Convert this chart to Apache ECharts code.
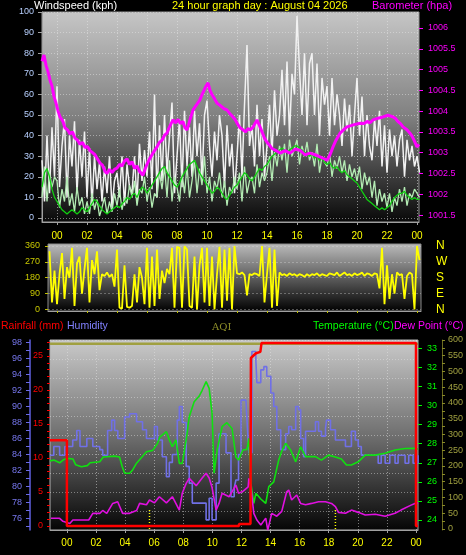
<!DOCTYPE html>
<html><head><meta charset="utf-8">
<script src="https://cdn.jsdelivr.net/npm/echarts@6/dist/echarts.min.js"></script>
<style>html,body{margin:0;padding:0;background:#000;}#c{width:466px;height:555px;}</style>
</head><body><div id="c"></div>
<script>
// ---------- tick labels ----------
const hourTicks = [0,2,4,6,8,10,12,14,16,18,20,22,24];
const hourLabels = ['00','02','04','06','08','10','12','14','16','18','20','22','00'];
const windTicks = [0,10,20,30,40,50,60,70,80,90,100];
const baroTicks = [1001.5,1002,1002.5,1003,1003.5,1004,1004.5,1005,1005.5,1006];
const dirTicks = [0,90,180,270,360];
const compassNames = ['N','E','S','W','N'];
const rainTicks = [0,5,10,15,20,25];
const rainMinorTicks = [0,1,2,3,4,5,6,7,8,9,10,11,12,13,14,15,16,17,18,19,20,21,22,23,24,25,26,27];
const humTicks = [76,78,80,82,84,86,88,90,92,94,96,98];
const humMinorTicks = [75,76,77,78,79,80,81,82,83,84,85,86,87,88,89,90,91,92,93,94,95,96,97,98];
const tempTicks = [24,25,26,27,28,29,30,31,32,33];
const aqiTicks = [0,50,100,150,200,250,300,350,400,450,500,550,600];
const aqiMinorTicks = [0,25,50,75,100,125,150,175,200,225,250,275,300,325,350,375,400,425,450,475,500,525,550,575,600];

// ---------- wind speed (kph), 10-minute samples from 23:00 of the previous day ----------
const windStart = -1;
const gust = [
 28,8,40,12,44,20, 64,15,35,48,10,40, 25,47,12,38,20,42, 10,34,6,30,14,27,
 8,25,12,30,5,18, 22,10,30,6,26,15, 12,30,8,36,18,33, 20,42,14,60,10,45,
 18,50,22,40,56,12, 30,48,15,52,25,44, 20,52,30,46,18,50, 57,35,20,42,28,50,
 40,15,45,25,36,12, 30,50,20,55,84,35, 45,25,55,30,48,20, 35,55,30,62,40,50,
 72,45,76,40,70,60, 98,72,50,80,45,75, 80,50,75,40,68,55, 64,40,68,45,60,50,
 35,58,42,55,30,50, 68,40,59,30,50,35, 28,48,35,52,25,45, 22,43,30,40,25,38,
 43,20,38,28,35,25, 30,22
];
const speed = [
 10,25,8,22,15,20, 18,5,14,8,20,6, 12,3,15,6,10,2, 8,2,12,4,9,1,
 5,10,2,8,3,12, 6,14,4,10,7,16, 10,18,6,14,12,20, 8,15,5,12,10,22,
 14,25,10,28,8,20, 15,8,22,12,25,10, 18,28,12,24,16,30, 12,20,8,18,14,22,
 10,18,6,15,12,20, 14,22,8,25,12,18, 20,12,26,15,22,18, 22,30,18,32,25,35,
 28,36,22,38,30,34, 38,26,35,30,37,28, 32,25,36,22,30,27, 25,32,20,28,24,30,
 22,28,18,26,20,24, 18,25,14,22,16,20, 10,18,6,14,8,12, 5,12,3,10,6,14,
 8,15,6,12,10,14, 12,10
];
const avgSpeed = [
 15,22,24,20,14,10, 8,6,4,3,2,3, 4,3,2,3,5,4, 3,5,7,9,8,6,
 4,3,2,3,4,5, 6,5,7,8,10,9, 11,12,10,13,15,14, 12,14,16,18,20,22,
 24,25,22,20,18,16, 15,17,20,22,24,26, 27,28,25,22,20,18, 16,14,12,13,15,14,
 12,10,9,11,13,15, 16,18,20,22,21,19, 18,20,22,24,23,25, 26,28,30,31,32,33,
 34,33,32,33,34,35, 35,34,33,32,31,30, 31,29,30,28,29,27, 26,27,25,24,25,23,
 22,23,21,20,19,18, 17,15,13,11,9,8, 7,6,5,4,5,4, 5,6,8,10,11,12,
 12,13,11,10,9,10, 9,9
];
// ---------- barometer (hPa): [hour, value] ----------
const baro = [
 [-1.0,1005.2],[-0.87,1005.35],[-0.73,1005.1],[-0.6,1004.95],[-0.47,1004.75],[-0.33,1004.6],[-0.2,1004.35],[-0.07,1004.2],
 [0.07,1004.0],[0.2,1003.86],[0.4,1003.75],[0.53,1003.6],[0.7,1003.55],[0.87,1003.45],[1.03,1003.5],[1.2,1003.35],
 [1.37,1003.3],[1.53,1003.2],[1.7,1003.25],[1.87,1003.12],[2.03,1003.15],[2.2,1003.05],[2.37,1003.0],[2.53,1002.95],
 [2.7,1002.85],[2.87,1002.75],[3.03,1002.7],[3.2,1002.55],[3.33,1002.5],[3.5,1002.6],[3.67,1002.52],[3.83,1002.6],
 [4.0,1002.63],[4.17,1002.72],[4.33,1002.68],[4.5,1002.8],[4.67,1002.85],[4.83,1002.72],[5.0,1002.78],[5.17,1002.62],
 [5.33,1002.68],[5.5,1002.55],[5.73,1002.46],[5.87,1002.6],[6.0,1002.72],[6.17,1002.85],[6.33,1002.95],[6.5,1003.05],
 [6.67,1003.14],[6.83,1003.25],[7.0,1003.3],[7.17,1003.42],[7.33,1003.47],[7.5,1003.62],[7.73,1003.79],[7.9,1003.72],
 [8.07,1003.8],[8.23,1003.7],[8.4,1003.75],[8.53,1003.6],[8.67,1003.55],[8.87,1003.8],[9.07,1004.03],[9.3,1004.15],
 [9.53,1004.27],[9.67,1004.4],[9.8,1004.5],[9.93,1004.6],[10.07,1004.68],[10.2,1004.5],[10.33,1004.4],[10.5,1004.3],
 [10.67,1004.19],[10.83,1004.15],[11.0,1004.1],[11.17,1004.05],[11.33,1004.03],[11.5,1003.95],[11.73,1003.86],[11.87,1003.8],
 [12.0,1003.71],[12.2,1003.6],[12.4,1003.55],[12.57,1003.5],[12.73,1003.58],[12.9,1003.55],[13.07,1003.62],[13.2,1003.7],
 [13.33,1003.79],[13.5,1003.65],[13.67,1003.5],[13.83,1003.35],[14.0,1003.25],[14.17,1003.18],[14.33,1003.1],[14.6,1003.05],
 [14.87,1002.99],[15.2,1003.05],[15.53,1002.99],[15.87,1003.08],[16.2,1003.06],[16.53,1002.95],[16.87,1002.99],[17.2,1002.95],
 [17.53,1002.9],[17.77,1002.86],[18.0,1002.82],[18.2,1002.95],[18.4,1003.14],[18.6,1003.3],[18.87,1003.47],[19.1,1003.55],
 [19.33,1003.62],[19.6,1003.65],[19.87,1003.68],[20.2,1003.71],[20.47,1003.7],[20.67,1003.75],[20.87,1003.72],[21.07,1003.79],
 [21.4,1003.83],[21.73,1003.86],[22.07,1003.9],[22.4,1003.86],[22.57,1003.82],[22.73,1003.75],[22.9,1003.7],[23.07,1003.62],
 [23.2,1003.58],[23.33,1003.55],[23.53,1003.47],[23.67,1003.4],[23.8,1003.3],[24.0,1003.14],[24.13,1003.2]
];
// ---------- wind direction (deg), 10-minute samples from 23:30 ----------
const dirStart = -0.5;
const windDir = [
 330,40,220,
 30,200,320,60,240,180, 350,20,260,300,90,230, 350,40,280,200,330,110, 200,190,210,185,200,130,
 340,10,5,250,15,10, 20,200,40,240,180,30, 350,10,300,20,340,60, 220,150,230,200,350,10,
 355,350,10,358,340,20, 10,300,0,250,350,40, 350,20,300,0,200,355, 10,340,50,350,0,360,
 205,200,210,195,80,200, 195,205,200,190,360,40, 200,350,10,340,20,210, 195,200,190,205,195,200,
 190,200,195,185,200,190, 200,195,205,190,200,195, 190,205,200,195,210,190, 200,210,195,200,190,205,
 195,200,210,190,205,200, 190,205,200,120,350,30, 250,60,200,90,210,195, 200,60,190,210,200,0,
 360,280
];
// ---------- bottom chart: [hour, value] ----------
const rainfall = [[-1.16,12.6],[0.0,12.6],[0.0,0],[11.83,0],[11.83,0.3],[12.62,0.3],[12.65,24.7],[13.0,25.4],[13.3,25.6],[13.38,26.9],[24.0,26.9],[24.0,0],[24.14,0]];
const humidity = [
 [-1.16,83.9],[-0.9,85],[-0.5,83.9],[-0.14,85],[0.4,85.8],[0.68,87],[0.9,85],[1.37,86],[1.78,85],[2.26,84.6],[2.46,83.9],
 [2.8,87],[3.08,88.3],[3.28,87],[3.5,86],[3.97,88.7],[4.31,89.1],[4.79,88.1],[5.2,87.1],[5.47,86],[6.02,87.5],[6.22,85.8],
 [6.56,83.7],[6.84,81.2],[7.04,83],[7.25,84],[7.59,88.3],[7.73,90],[7.93,88],[8.2,82.5],[8.41,80.4],[8.62,77.9],[9.3,77.9],
 [9.57,75.8],[9.78,78.5],[9.98,75.8],[10.26,80.4],[10.46,86.6],[10.94,84.2],[11.28,78.7],[11.5,79.8],[11.62,80.8],[11.8,84],
 [11.97,90.8],[12.31,90.8],[12.38,88.3],[12.51,84.2],[12.72,96.9],[12.99,95.8],[13.06,93],[13.33,94.6],[13.54,95],[13.74,93.8],
 [14.02,91.7],[14.22,90],[14.43,87.1],[14.7,84.6],[15.04,86.6],[15.25,87.5],[15.45,87.1],[15.73,90],[15.93,89.6],[16.07,86],
 [16.27,83.7],[16.41,86.9],[17.09,88.1],[17.3,86.9],[17.5,86.3],[17.78,87.3],[17.85,88.3],[18.12,87.1],[18.46,85.8],[18.87,85.8],
 [19.15,85],[19.56,86.9],[19.83,85.8],[20.03,85],[20.24,83.9],[21.4,82.9],[21.61,83.9],[21.88,82.9],[22.2,83.9],[22.56,82.9],
 [22.77,83.9],[23.25,82.9],[23.5,83.9],[23.8,82.9],[24.14,83.9]
];
const temperature = [
 [-1.16,27.1],[-0.9,27.14],[-0.5,27.0],[-0.27,27.14],[0,27.23],[0.41,27.2],[0.6,26.9],[1.0,26.79],[1.4,26.85],[1.6,27.0],
 [2.26,27.05],[2.5,27.3],[3.28,27.35],[3.62,27.3],[3.8,26.8],[3.97,26.45],[4.31,26.45],[4.5,26.6],[4.79,26.98],[5.47,27.58],
 [5.9,27.65],[6.22,28.0],[6.4,28.36],[6.84,28.63],[7.04,28.2],[7.25,27.84],[7.5,28.2],[7.73,26.97],[7.93,26.97],[8.2,28.2],
 [8.41,29.41],[8.75,30.2],[9.1,30.5],[9.3,30.8],[9.57,31.25],[9.78,30.9],[9.98,29.59],[10.12,26.45],[10.33,27.67],[10.67,28.89],
 [11.0,29.1],[11.35,28.8],[11.62,27.3],[11.8,27.14],[12.1,27.67],[12.38,27.7],[12.51,28.28],[12.65,25.92],[12.85,24.87],[12.99,25.4],
 [13.33,25.1],[13.67,24.87],[13.88,25.75],[14.22,26.0],[14.56,27.14],[14.77,27.6],[15.04,28.02],[15.38,27.67],[15.73,27.05],[16.07,27.84],
 [16.41,27.32],[17.09,27.32],[17.5,27.14],[17.98,27.4],[18.46,27.3],[18.87,27.2],[19.22,26.88],[19.56,26.88],[20.03,27.05],[20.51,27.4],
 [21.2,27.4],[21.88,27.5],[22.56,27.67],[23.25,27.75],[24.0,27.76],[24.14,27.7]
];
const dewPoint = [
 [-1.1,24.09],[-0.5,24.09],[-0.27,23.93],[0.2,23.82],[0.41,24.0],[0.9,24.0],[1.5,24.0],[1.78,24.35],[2.26,24.35],[2.46,24.5],
 [2.74,24.35],[3.15,24.87],[3.49,24.96],[3.83,24.35],[4.31,24.35],[4.79,24.5],[5.0,24.87],[5.47,24.8],[5.68,25.05],[6.02,24.9],
 [6.36,25.22],[6.84,24.9],[7.25,25.22],[7.73,24.52],[7.93,25.4],[8.2,25.92],[8.41,26.18],[8.89,25.8],[9.3,26.2],[9.57,26.45],
 [9.78,26.2],[9.98,25.7],[10.26,24.52],[10.46,24.87],[10.67,25.4],[11.15,25.22],[11.62,25.83],[11.8,25.4],[12.1,25.5],[12.46,25.74],
 [12.51,26.18],[12.65,25.74],[12.85,24.35],[13.06,24.0],[13.33,23.74],[13.67,24.1],[13.81,23.47],[14.08,24.35],[14.43,24.2],[14.77,24.45],
 [15.11,25.48],[15.25,25.57],[15.45,25.05],[15.8,25.31],[16.07,24.87],[16.41,24.8],[16.82,24.87],[17.3,24.96],[17.78,24.96],[18.19,24.87],
 [18.46,24.7],[18.67,24.4],[19.15,24.35],[19.56,24.52],[20.03,24.4],[20.51,24.26],[21.2,24.3],[21.88,24.2],[22.56,24.35],[22.97,24.52],
 [23.66,24.78],[23.93,24.87],[24.14,24.9]
];
const aqi = [[-1.16,588],[24.14,588]];
const sunMarks = [5.68, 18.46];
const sunMarkHeight = [0, 60];

// ---------- build ----------
const FONT = 'Liberation Sans';
const step = 1/6;
const toXY = (arr, start) => arr.map((v, i) => [start + i * step, v]);
const hourFmt = v => hourLabels[hourTicks.indexOf(Math.round(v))] || '';
const grad = (stops) => new echarts.graphic.LinearGradient(0, 0, 0, 1, stops.map((c, i) => ({offset: i / (stops.length - 1), color: c})));
const dotted = (c) => ({show: true, lineStyle: {color: c, type: [1, 2], width: 1}});
const line = (show, color, width) => ({show: show, onZero: false, lineStyle: {color: color || '#a0a0a0', width: width || 1}});

const chart = echarts.init(document.getElementById('c'), null, {renderer: 'canvas'});
const option = {
  backgroundColor: '#000',
  animation: false,
  textStyle: {fontFamily: FONT},
  graphic: [
    {type: 'text', left: 34, top: 0, style: {text: 'Windspeed (kph)', fill: '#ffffff', font: '11px ' + FONT}},
    {type: 'text', left: 172, top: 0, style: {text: '24 hour graph day : August 04 2026', fill: '#ffff00', font: '11px ' + FONT}},
    {type: 'text', left: 372, top: 0, style: {text: 'Barometer (hpa)', fill: '#ff00ff', font: '11px ' + FONT}},
    {type: 'text', left: 1, top: 321, style: {text: 'Rainfall (mm)', fill: '#ff0000', font: '10.5px ' + FONT}},
    {type: 'text', left: 67, top: 321, style: {text: 'Humidity', fill: '#8080ff', font: '10.5px ' + FONT}},
    {type: 'text', left: 212, top: 322, style: {text: 'AQI', fill: '#8c8c28', font: '10px DejaVu Serif'}},
    {type: 'text', left: 313, top: 321, style: {text: 'Temperature (°C)', fill: '#00ff00', font: '10.5px ' + FONT}},
    {type: 'text', left: 394, top: 321, style: {text: 'Dew Point (°C)', fill: '#ff00ff', font: '10.5px ' + FONT}}
  ],
  grid: [
    {left: 42, width: 377, top: 12, height: 210, show: true, borderColor: '#9a9a9a', borderWidth: 1,
     backgroundColor: grad(['#c6c6c6', '#808080', '#080808'])},
    {left: 48, width: 373, top: 244, height: 67, show: true, borderColor: '#8a8a8a', borderWidth: 1,
     backgroundColor: grad(['#bcbcbc', '#5e5e5e', '#000000'])},
    {left: 50, width: 370, top: 340, height: 190, show: true, borderColor: '#b0b0b0', borderWidth: 1,
     backgroundColor: grad(['#cacaca', '#707070', '#050505'])}
  ],
  xAxis: [
    {gridIndex: 0, type: 'value', min: -1, max: 24.133,
     axisLine: line(true), axisTick: {customValues: hourTicks, length: 3, lineStyle: {color: '#a0a0a0'}},
     axisLabel: {customValues: hourTicks, formatter: hourFmt, color: '#ffff00', fontSize: 10, margin: 9},
     splitLine: dotted('rgba(230,230,230,0.55)')},
    {gridIndex: 1, type: 'value', min: -0.6, max: 24.267,
     axisLine: line(true), axisTick: {customValues: hourTicks, length: 2, lineStyle: {color: '#c0c000'}},
     axisLabel: {show: false}, splitLine: {show: false}},
    {gridIndex: 2, type: 'value', min: -1.162, max: 24.137,
     axisLine: line(true), axisTick: {customValues: hourTicks, length: 3, lineStyle: {color: '#a0a0a0'}},
     axisLabel: {customValues: hourTicks, formatter: hourFmt, color: '#ffff00', fontSize: 10, margin: 8},
     splitLine: dotted('rgba(230,230,230,0.5)')}
  ],
  yAxis: [
    {gridIndex: 0, type: 'value', position: 'left', min: -1.94, max: 100,
     axisLine: line(true), axisTick: {show: true, customValues: windTicks, length: 4, lineStyle: {color: '#a0a0a0'}},
     axisLabel: {customValues: windTicks, color: '#b8d0ff', fontSize: 9, margin: 8},
     splitLine: dotted('rgba(230,230,230,0.5)')},
    {gridIndex: 0, type: 'value', position: 'right', min: 1001.332, max: 1006.385,
     axisLine: line(false), axisTick: {show: true, customValues: baroTicks, length: 4, lineStyle: {color: '#ff00ff'}},
     axisLabel: {customValues: baroTicks, color: '#ff00ff', fontSize: 9, margin: 9, formatter: v => String(v)},
     splitLine: {show: false}},
    {gridIndex: 1, type: 'value', position: 'left', min: -8.5, max: 371.3,
     axisLine: line(false), axisTick: {show: true, customValues: dirTicks, length: 3, lineStyle: {color: '#c0c000'}},
     axisLabel: {customValues: dirTicks, color: '#c8c800', fontSize: 9, margin: 8},
     splitLine: {show: true, lineStyle: {color: 'rgba(220,220,220,0.35)', type: [2, 2]}}},
    {gridIndex: 1, type: 'value', position: 'right', min: -8.5, max: 371.3,
     axisLine: line(false), axisTick: {show: false},
     axisLabel: {customValues: dirTicks, color: '#ffff00', fontSize: 12, margin: 15, formatter: v => compassNames[dirTicks.indexOf(v)]},
     splitLine: {show: false}},
    {gridIndex: 2, type: 'value', position: 'left', offset: 0, min: -0.59, max: 27.35,
     axisLine: line(false), axisTick: {show: true, customValues: rainMinorTicks, length: 3, lineStyle: {color: '#ff0000'}},
     axisLabel: {customValues: rainTicks, color: '#ff0000', fontSize: 9, margin: 7},
     splitLine: {show: false}},
    {gridIndex: 2, type: 'value', position: 'left', offset: 20, min: 74.53, max: 98.34,
     axisLine: line(true, '#6060e0', 1.5), axisTick: {show: true, customValues: humMinorTicks, length: 4, lineStyle: {color: '#6a6ae8'}},
     axisLabel: {customValues: humTicks, color: '#7878f0', fontSize: 9, margin: 8},
     splitLine: {show: false}},
    {gridIndex: 2, type: 'value', position: 'right', offset: 0, min: 23.476, max: 33.435,
     axisLine: line(false), axisTick: {show: true, customValues: tempTicks, length: 4, lineStyle: {color: '#00ff00'}},
     axisLabel: {customValues: tempTicks, color: '#00ff00', fontSize: 9, margin: 9},
     splitLine: {show: false}},
    {gridIndex: 2, type: 'value', position: 'right', offset: 24, min: -3.2, max: 600,
     axisLine: line(true, '#6a6a20'), axisTick: {show: true, customValues: aqiMinorTicks, length: 3, lineStyle: {color: '#8c8c28'}},
     axisLabel: {customValues: aqiTicks, color: '#a0a040', fontSize: 9, margin: 6},
     splitLine: {show: false}},
    {gridIndex: 2, type: 'value', position: 'left', min: 0, max: 10, interval: 1, show: true,
     axisLine: line(false), axisTick: {show: false}, axisLabel: {show: false},
     splitLine: dotted('rgba(230,230,230,0.45)')}
  ],
  series: [
    {name: 'Gust', type: 'line', xAxisIndex: 0, yAxisIndex: 0, data: toXY(gust, windStart), showSymbol: false,
     lineStyle: {color: '#f2f2f2', width: 1.5}, z: 2},
    {name: 'Wind', type: 'line', xAxisIndex: 0, yAxisIndex: 0, data: toXY(speed, windStart), showSymbol: false,
     lineStyle: {color: '#b4ecb4', width: 1.3}, z: 3},
    {name: 'Average', type: 'line', xAxisIndex: 0, yAxisIndex: 0, data: toXY(avgSpeed, windStart), showSymbol: false,
     lineStyle: {color: '#10d010', width: 1.3}, z: 4},
    {name: 'Barometer', type: 'line', xAxisIndex: 0, yAxisIndex: 1, data: baro, showSymbol: false,
     lineStyle: {color: '#ff00ff', width: 3}, z: 5},
    {name: 'Direction', type: 'line', xAxisIndex: 1, yAxisIndex: 2, data: toXY(windDir, dirStart), showSymbol: false,
     lineStyle: {color: '#ffff00', width: 1.8}, z: 3},
    {name: 'AQI', type: 'line', xAxisIndex: 2, yAxisIndex: 7, data: aqi, showSymbol: false,
     lineStyle: {color: '#a0a040', width: 2.5}, z: 2},
    {name: 'Humidity', type: 'line', xAxisIndex: 2, yAxisIndex: 5, data: humidity, showSymbol: false, step: 'end',
     lineStyle: {color: '#7070e6', width: 1.6}, z: 3},
    {name: 'Temperature', type: 'line', xAxisIndex: 2, yAxisIndex: 6, data: temperature, showSymbol: false,
     lineStyle: {color: '#10e010', width: 1.6}, z: 4},
    {name: 'Dew Point', type: 'line', xAxisIndex: 2, yAxisIndex: 6, data: dewPoint, showSymbol: false,
     lineStyle: {color: '#e010e0', width: 1.6}, z: 4},
    {name: 'Rainfall', type: 'line', xAxisIndex: 2, yAxisIndex: 4, data: rainfall, showSymbol: false,
     lineStyle: {color: '#ff0000', width: 2.5}, z: 6}
  ].concat(sunMarks.map(h => ({
    type: 'line', xAxisIndex: 2, yAxisIndex: 7, showSymbol: false, z: 5,
    data: sunMarkHeight.map(a => [h, a]),
    lineStyle: {color: '#ffff00', width: 1.5, type: [1, 2]}
  })))
};
chart.setOption(option);
</script>
</body></html>
